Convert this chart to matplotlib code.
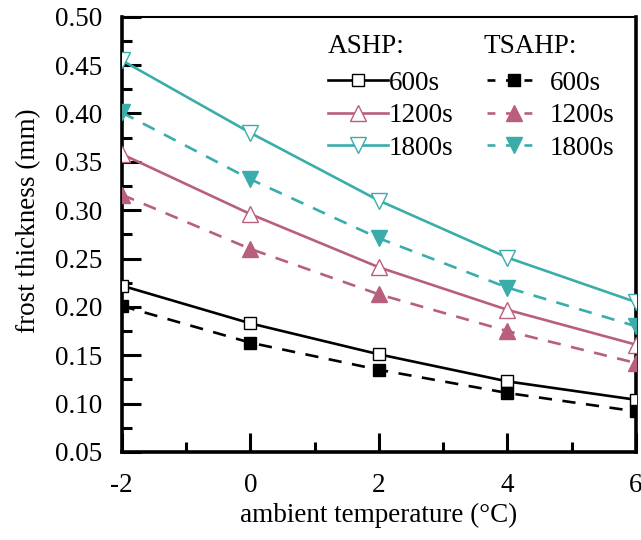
import matplotlib
matplotlib.use("Agg")
import matplotlib.pyplot as plt
from matplotlib.lines import Line2D
from matplotlib.ticker import MultipleLocator, FormatStrFormatter

plt.rcParams['font.family'] = ['Liberation Serif', 'DejaVu Serif']
plt.rcParams['axes.unicode_minus'] = False
fs = 19.5
plt.rcParams['font.size'] = fs

# ambient temperature (°C)
temps = [-2, 0, 2, 4, 6]

# frost thickness (mm)
ashp_600 = [0.222, 0.183, 0.151, 0.123, 0.104]
ashp_1200 = [0.358, 0.296, 0.241, 0.197, 0.161]
ashp_1800 = [0.455, 0.380, 0.310, 0.251, 0.205]
tsahp_600 = [0.201, 0.163, 0.135, 0.111, 0.092]
tsahp_1200 = [0.316, 0.260, 0.213, 0.175, 0.142]
tsahp_1800 = [0.401, 0.332, 0.271, 0.220, 0.180]

times = ['600s', '1200s', '1800s']

black = 'black'
pink = '#b85f7e'
teal = '#3aadab'

fig = plt.figure(figsize=(6.41, 5.40), dpi=100)
ax = fig.add_axes([0.190, 0.163, 0.802, 0.806])

lw = 1.9
dash = (0, (5, 4))

ax.plot(temps, ashp_600, '-', color=black, lw=lw, marker='s', ms=9, mfc='white', mec=black, mew=1.0, zorder=3)
ax.plot(temps, ashp_1200, '-', color=pink, lw=lw, marker='^', ms=12, mfc='white', mec=pink, mew=1.0, zorder=3)
ax.plot(temps, ashp_1800, '-', color=teal, lw=lw, marker='v', ms=12, mfc='white', mec=teal, mew=1.0, zorder=3)
ax.plot(temps, tsahp_600, linestyle=dash, color=black, lw=lw, marker='s', ms=9, mfc=black, mec=black, zorder=3)
ax.plot(temps, tsahp_1200, linestyle=dash, color=pink, lw=lw, marker='^', ms=12, mfc=pink, mec=pink, zorder=3)
ax.plot(temps, tsahp_1800, linestyle=dash, color=teal, lw=lw, marker='v', ms=12, mfc=teal, mec=teal, zorder=3)

ax.set_xlim(-2, 6)
ax.set_ylim(0.05, 0.50)
ax.xaxis.set_major_locator(MultipleLocator(2))
ax.xaxis.set_minor_locator(MultipleLocator(1))
ax.yaxis.set_major_locator(MultipleLocator(0.05))
ax.yaxis.set_minor_locator(MultipleLocator(0.025))
ax.yaxis.set_major_formatter(FormatStrFormatter('%.2f'))
ax.tick_params(which='major', direction='in', length=14, width=2.2, labelsize=fs)
ax.tick_params(axis='y', which='major', pad=14)
ax.tick_params(axis='x', which='major', pad=15)
ax.tick_params(which='minor', direction='in', length=7, width=2.2)
ax.tick_params(top=False, right=False, which='both')
for side in ['left', 'bottom', 'right']:
    ax.spines[side].set_linewidth(2.6)
ax.spines['top'].set_linewidth(1.5)

ax.set_xlabel('ambient temperature (°C)', fontsize=fs)
ax.set_ylabel('frost thickness (mm)', fontsize=fs)
ax.xaxis.set_label_coords(0.5, -0.118)
ax.yaxis.set_label_coords(-0.157, 0.531)

# legend: two groups with titles
ax.text(0.401, 0.931, 'ASHP:', transform=ax.transAxes, fontsize=fs, va='center', ha='left')
ax.text(0.704, 0.931, 'TSAHP:', transform=ax.transAxes, fontsize=fs, va='center', ha='left')

ls_leg = (0, (3, 4))
ashp_handles = [
    Line2D([], [], color=black, lw=lw, marker='s', ms=9, mfc='white', mec=black, mew=1.0),
    Line2D([], [], color=pink, lw=lw, marker='^', ms=12, mfc='white', mec=pink, mew=1.0),
    Line2D([], [], color=teal, lw=lw, marker='v', ms=12, mfc='white', mec=teal, mew=1.0),
]
tsahp_handles = [
    Line2D([], [], color=black, lw=lw, linestyle=ls_leg, marker='s', ms=9, mfc=black, mec=black),
    Line2D([], [], color=pink, lw=lw, linestyle=ls_leg, marker='^', ms=12, mfc=pink, mec=pink),
    Line2D([], [], color=teal, lw=lw, linestyle=ls_leg, marker='v', ms=12, mfc=teal, mec=teal),
]
leg_kw = dict(loc='upper left', frameon=False, borderpad=0, borderaxespad=0,
              labelspacing=0.28, fontsize=fs)
fig.legend(ashp_handles, times, bbox_to_anchor=(0.5117, 0.869),
           handlelength=2.2, handletextpad=0.05, **leg_kw)
fig.legend(tsahp_handles, times, bbox_to_anchor=(0.760, 0.869),
           handlelength=1.95, handletextpad=0.35, **leg_kw)

fig.savefig('out.png', dpi=100)
